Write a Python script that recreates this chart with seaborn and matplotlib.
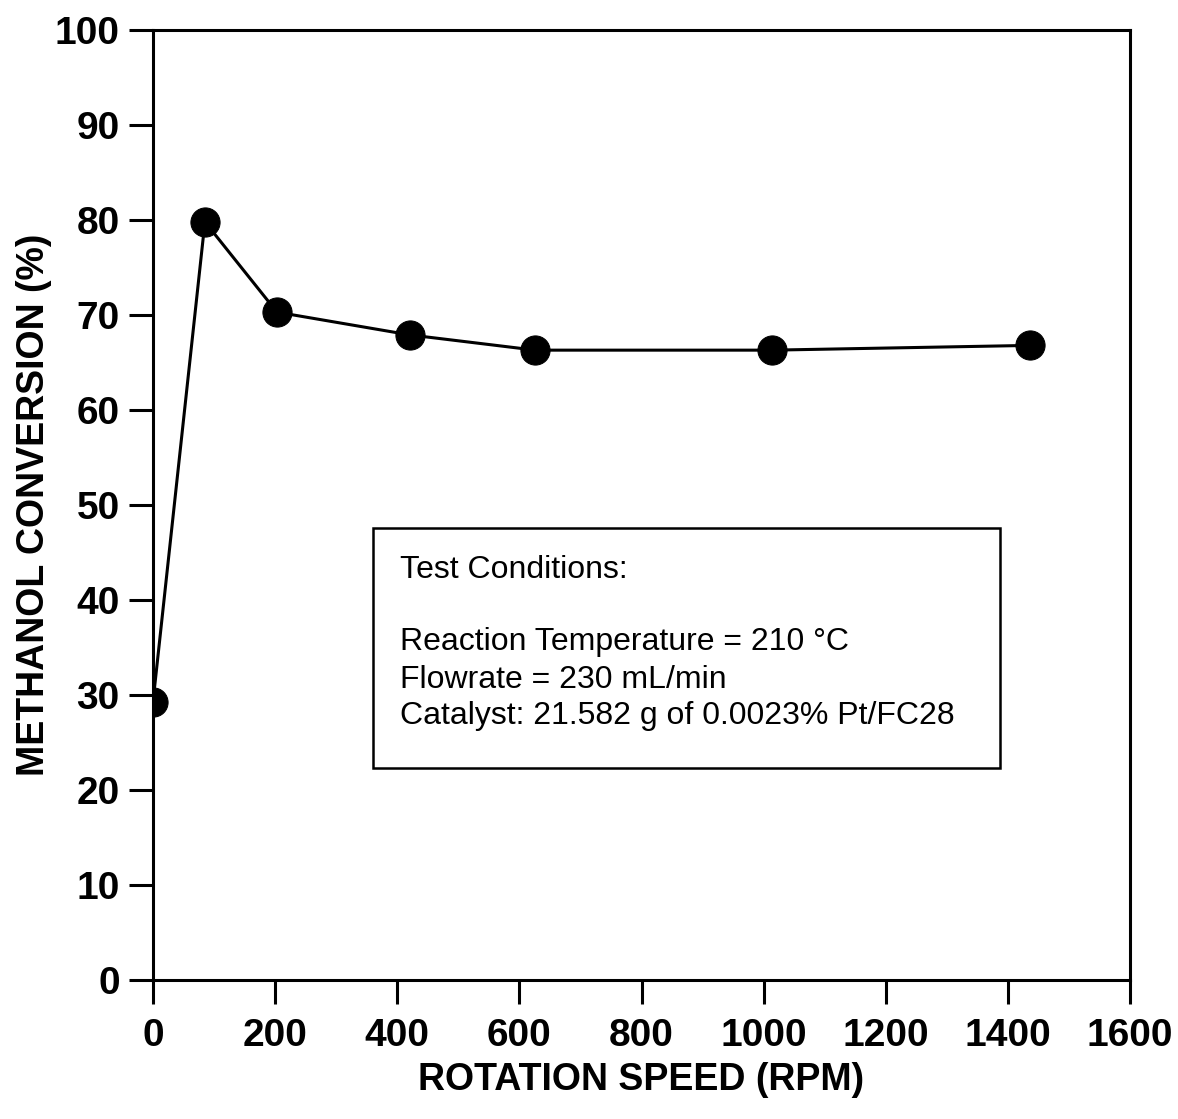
import numpy as np
import pandas as pd
import matplotlib
matplotlib.use("Agg")
import matplotlib.pyplot as plt
import seaborn as sns
from matplotlib.patches import Rectangle

# values
rotation_speed = [0, 85, 203, 421, 626, 1014, 1436]
methanol_conversion = [29.3, 79.8, 70.3, 67.9, 66.3, 66.3, 66.8]
x_ticks = [0, 200, 400, 600, 800, 1000, 1200, 1400, 1600]
y_ticks = [0, 10, 20, 30, 40, 50, 60, 70, 80, 90, 100]

sns.set_style("ticks")
plt.rcParams['font.family'] = ['Liberation Sans', 'DejaVu Sans']
plt.rcParams['text.color'] = 'black'
plt.rcParams['axes.labelcolor'] = 'black'
plt.rcParams['xtick.color'] = 'black'
plt.rcParams['ytick.color'] = 'black'

df = pd.DataFrame({'rpm': rotation_speed, 'conv': methanol_conversion})

fig = plt.figure(figsize=(11.78, 11.19), dpi=100)
ax = fig.add_axes([0.1299, 0.1242, 0.8294, 0.8490])

sns.lineplot(data=df, x='rpm', y='conv', ax=ax, color='black', linewidth=2.2,
             marker='o', markersize=21, markeredgecolor='black', markerfacecolor='black')

ax.set_xlim(0, 1600)
ax.set_ylim(0, 100)
ax.set_xticks(x_ticks)
ax.set_yticks(y_ticks)
for s in ax.spines.values():
    s.set_linewidth(2.2)
    s.set_color('black')
ax.tick_params(axis='both', direction='out', length=17, width=2.2, color='black',
               labelsize=28, labelcolor='black')
ax.tick_params(axis='x', pad=10)
ax.tick_params(axis='y', pad=7)
for lbl in ax.get_xticklabels() + ax.get_yticklabels():
    lbl.set_fontweight('bold')

ax.set_xlabel('ROTATION SPEED (RPM)', fontsize=27, fontweight='bold', labelpad=6)
ax.set_ylabel('METHANOL CONVERSION (%)', fontsize=27, fontweight='bold', labelpad=2)

# test conditions box
ax.add_patch(Rectangle((0.225, 0.223), 0.642, 0.253, transform=ax.transAxes,
                       fill=False, edgecolor='black', linewidth=1.8, zorder=5))
ax.text(0.253, 0.432, 'Test Conditions:', transform=ax.transAxes, fontsize=23,
        va='center', ha='left')
ax.text(0.253, 0.356, 'Reaction Temperature = 210 \u00b0C', transform=ax.transAxes,
        fontsize=23, va='center', ha='left')
ax.text(0.253, 0.316, 'Flowrate = 230 mL/min', transform=ax.transAxes,
        fontsize=23, va='center', ha='left')
ax.text(0.253, 0.278, 'Catalyst: 21.582 g of 0.0023% Pt/FC28', transform=ax.transAxes,
        fontsize=23, va='center', ha='left')

fig.savefig('out.png', dpi=100)
